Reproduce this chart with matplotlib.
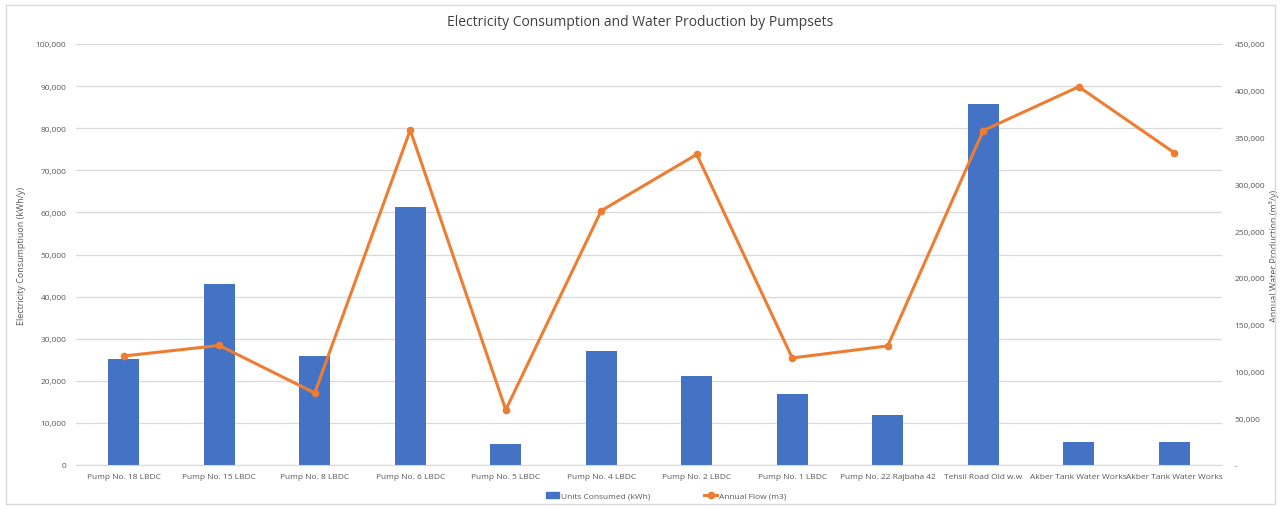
import matplotlib
matplotlib.use("Agg")
import matplotlib.pyplot as plt
from matplotlib.ticker import FuncFormatter
from matplotlib.patches import Rectangle
from matplotlib.lines import Line2D

categories = ["Pump No. 18 LBDC", "Pump No. 15 LBDC", "Pump No. 8 LBDC", "Pump No. 6 LBDC",
              "Pump No. 5 LBDC", "Pump No. 4 LBDC", "Pump No. 2 LBDC", "Pump No. 1 LBDC",
              "Pump No. 22 Rajbaha 42", "Tehsil Road Old w.w", "Akber Tank Water Works",
              "Akber Tank Water Works"]
units_consumed = [25100, 43000, 26000, 61300, 4900, 27000, 21200, 16800, 11800, 85800, 5400, 5400]
annual_flow = [116500, 127800, 77000, 358000, 59000, 271800, 332000, 114400, 127300, 357500, 404300, 333800]

plt.rcParams['font.family'] = ['Open Sans', 'DejaVu Sans']
tick_color = "#595959"
grid_color = "#d9d9d9"
bar_color = "#4472C4"
line_color = "#ED7D31"

fig = plt.figure(figsize=(12.81, 5.10), dpi=100)
fig.patches.append(Rectangle((0.005, 0.01), 0.99, 0.978, transform=fig.transFigure,
                             fill=False, edgecolor="#d9d9d9", linewidth=1))

ax = fig.add_axes([76/1281, 1-466/510, (1222-76)/1281, (466-45)/510])
x = list(range(len(categories)))
ax.bar(x, units_consumed, width=0.32, color=bar_color, zorder=2)
ax.set_ylim(0, 100000)
ax.set_yticks(range(0, 100001, 10000))
ax.yaxis.set_major_formatter(FuncFormatter(lambda v, p: f"{int(v):,}"))
ax.set_xlim(-0.5, len(categories) - 0.5)
ax.set_xticks(x)
ax.set_xticklabels(categories)
ax.grid(axis='y', color=grid_color, linewidth=0.9, zorder=0)
ax.set_axisbelow(True)
for s in ["top", "right", "left"]:
    ax.spines[s].set_visible(False)
ax.spines["bottom"].set_color(grid_color)
ax.tick_params(axis='both', length=0, labelsize=6.0, colors=tick_color, pad=7)
ax.tick_params(axis='x', pad=6)
ax.set_ylabel("Electricity Consumptiuon (kWh/y)", fontsize=6.5, color=tick_color, labelpad=7)

ax2 = ax.twinx()
ax2.plot(x, annual_flow, color=line_color, linewidth=2.2, marker='o', markersize=4.5, zorder=3)
ax2.set_ylim(0, 450000)
ax2.set_yticks(range(0, 450001, 50000))
ax2.yaxis.set_major_formatter(FuncFormatter(lambda v, p: "-" if v == 0 else f"{int(v):,}"))
for s in ["top", "right", "left", "bottom"]:
    ax2.spines[s].set_visible(False)
ax2.tick_params(axis='y', length=0, labelsize=6.0, colors=tick_color, pad=9)
ax2.set_ylabel("Annual Water Production (m\u00b3/y)", fontsize=6.5, color=tick_color, labelpad=3)

fig.text(0.5, 1-22/510, "Electricity Consumption and Water Production by Pumpsets",
         ha='center', va='center', fontsize=10, color="#404040")

handles = [Rectangle((0, 0), 1, 1, color=bar_color),
           Line2D([0], [0], color=line_color, linewidth=2.2, marker='o', markersize=4.5)]
fig.legend(handles, ["Units Consumed (kWh)", "Annual Flow (m3)"], loc='center',
           bbox_to_anchor=(666/1281, 1-497/510), ncol=2, frameon=False, fontsize=6.0,
           labelcolor=tick_color, handlelength=1.6, columnspacing=6.5, handletextpad=0.2)

fig.savefig("out.png", dpi=100)
